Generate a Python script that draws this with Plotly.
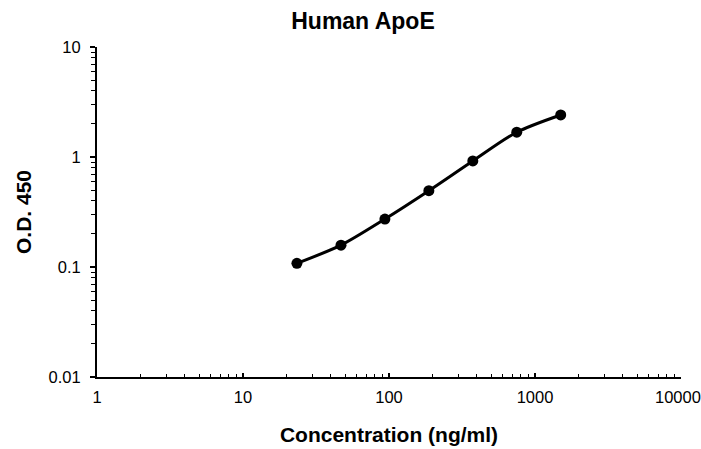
import math
import plotly.graph_objects as go

concentration = [23.4, 46.9, 93.75, 187.5, 375, 750, 1500]
od450 = [0.108, 0.158, 0.273, 0.494, 0.92, 1.68, 2.41]

x_tickvals = [1, 10, 100, 1000, 10000]
x_ticktext = ["1", "10", "100", "1000", "10000"]
y_tickvals = [0.01, 0.1, 1, 10]
y_ticktext = ["0.01", "0.1", "1", "10"]

FONT = "Liberation Sans, Arial, sans-serif"
W, H = 701, 449
TICKFONT = dict(size=16.5, family=FONT, color="black")

fig = go.Figure()
fig.add_trace(go.Scatter(
    x=concentration, y=od450, mode="lines+markers",
    line=dict(color="black", width=3, shape="spline", smoothing=0.8),
    marker=dict(color="black", size=11),
    showlegend=False,
))

fig.update_layout(
    width=W, height=H,
    margin=dict(l=97, r=20, t=47, b=72),
    paper_bgcolor="white", plot_bgcolor="white",
    font=dict(family=FONT, color="black"),
    title=dict(text="<b>Human ApoE</b>", x=363 / W, xanchor="center",
               y=1 - 21 / H, yanchor="middle",
               font=dict(size=23, family=FONT, color="black")),
)
# the last x tick label sits flush with the right edge, as in the reference
fig.add_annotation(
    x=math.log10(x_tickvals[-1]), xref="x", y=0, yref="paper",
    text=x_ticktext[-1], showarrow=False, font=TICKFONT,
    xanchor="center", yanchor="middle", xshift=-3, yshift=-20,
)
fig.update_xaxes(
    type="log", range=[0, 4], automargin=False,
    tickvals=x_tickvals, ticktext=x_ticktext[:-1] + [""],
    showline=True, linecolor="black", linewidth=2,
    ticks="inside", ticklen=4, tickwidth=1.5, tickcolor="black",
    minor=dict(ticks="inside", ticklen=3, tickwidth=1, tickcolor="black", dtick="D1", showgrid=False),
    showgrid=False, zeroline=False,
    tickfont=TICKFONT,
    ticklabelstandoff=4, ticklabeloverflow="allow",
    title=dict(text="<b>Concentration (ng/ml)</b>", font=dict(size=21, family=FONT, color="black"), standoff=23),
)
fig.update_yaxes(
    type="log", range=[-2, 1], automargin=False,
    tickvals=y_tickvals, ticktext=y_ticktext,
    showline=True, linecolor="black", linewidth=2,
    ticks="outside", ticklen=5, tickwidth=1.5, tickcolor="black",
    minor=dict(ticks="outside", ticklen=4, tickwidth=1, tickcolor="black", dtick="D1", showgrid=False),
    showgrid=False, zeroline=False,
    tickfont=TICKFONT,
    ticklabelstandoff=6, ticklabeloverflow="allow",
    title=dict(text="<b>O.D. 450</b>", font=dict(size=21, family=FONT, color="black"), standoff=11),
)

fig.write_html(
    "out.html",
    config={"displayModeBar": False},
    post_script="document.body.style.margin='0';document.body.style.overflow='hidden';",
)
